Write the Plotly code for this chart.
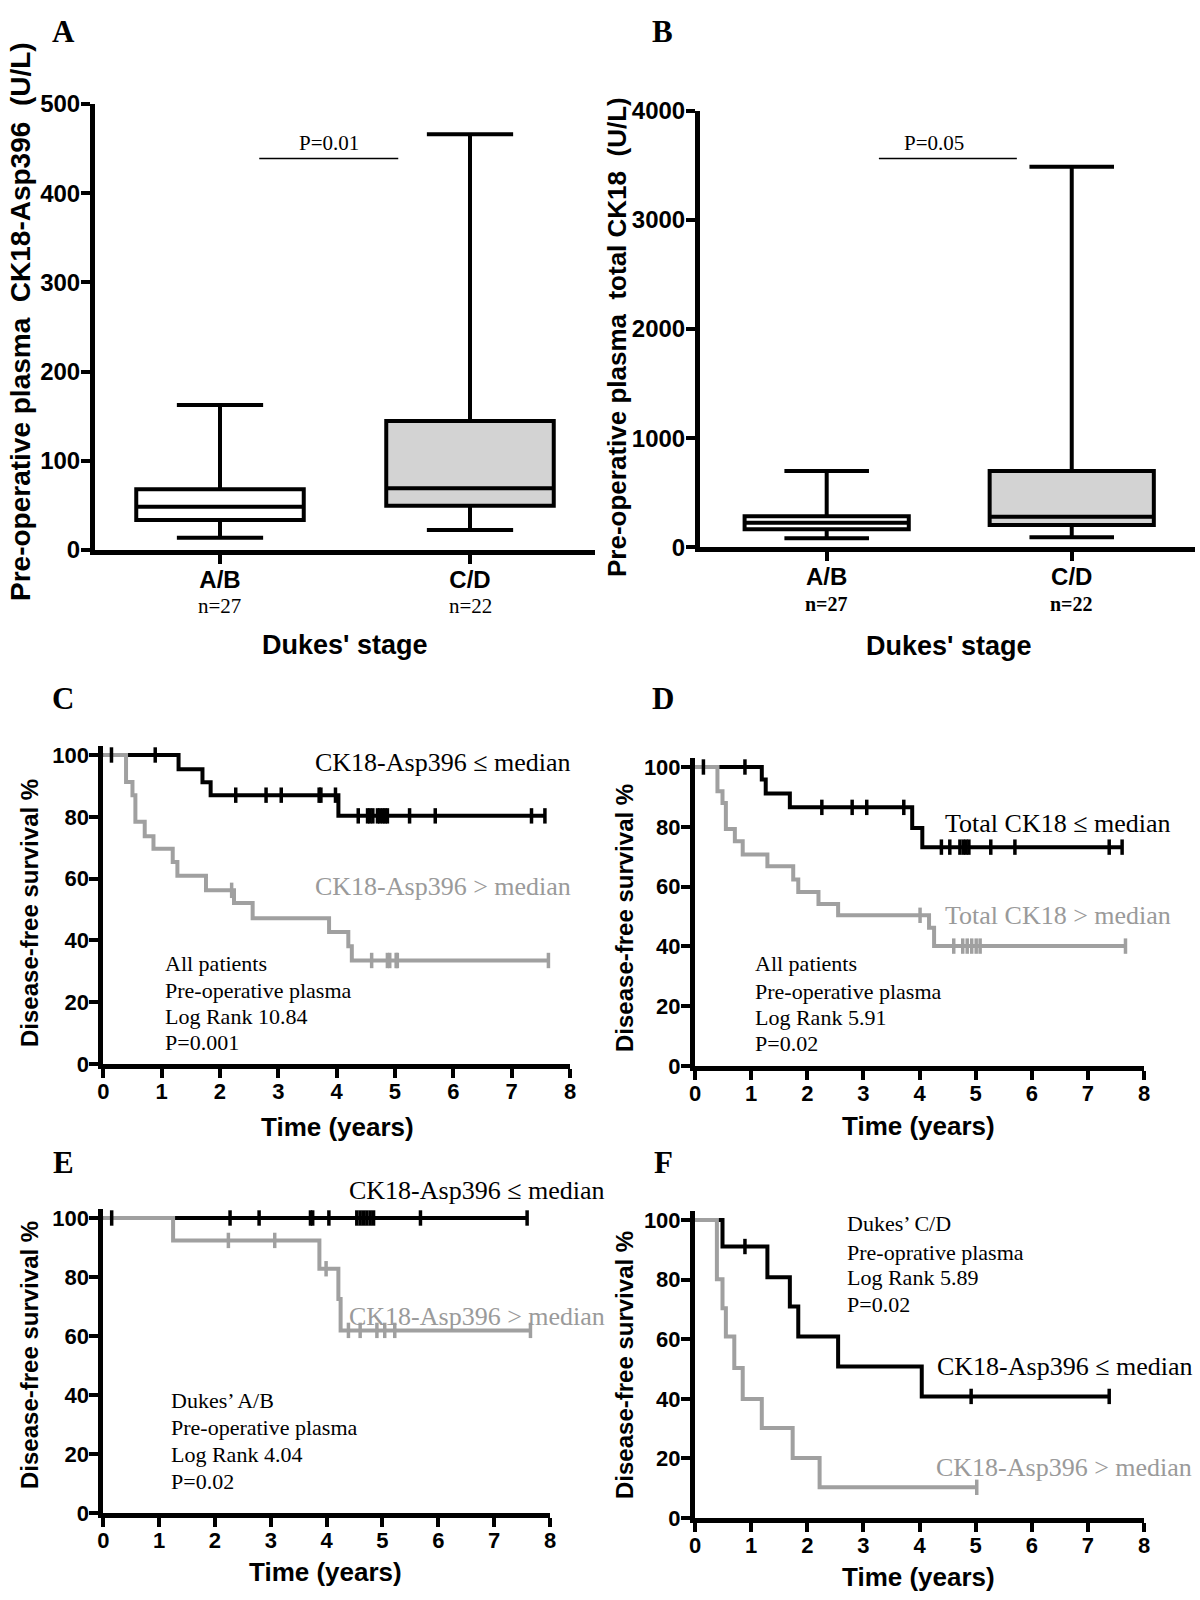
import plotly.graph_objects as go

W, H = 1200, 1600

# ------------------------------------------------------------------ data
groups = ["A/B", "C/D"]
group_pos = [1, 2]
group_n = ["n=27", "n=22"]

# Panel A : pre-operative plasma CK18-Asp396 (U/L)
a_lower = [13.8, 22.4]
a_q1 = [33.6, 49.7]
a_median = [48.5, 69.2]
a_q3 = [68.0, 144.6]
a_upper = [162.5, 466.0]
a_pvalue = "P=0.01"

# Panel B : pre-operative plasma total CK18 (U/L)
b_lower = [82, 92]
b_q1 = [165, 204]
b_median = [225, 280]
b_q3 = [285, 699]
b_upper = [699, 3487]
b_pvalue = "P=0.05"

# Panel C : all patients, CK18-Asp396
c_low_t = [1.29, 1.70, 1.84, 4.03]
c_low_s = [95.4, 91.2, 87.0, 80.3]
c_low_cens = [0.14, 0.89, 2.27, 2.79, 3.05, 3.70, 3.73, 3.98, 4.37, 4.53, 4.57, 4.62,
              4.70, 4.74, 4.79, 4.83, 4.87, 5.25, 5.69, 7.34, 7.57]
c_high_t = [0.39, 0.50, 0.55, 0.71, 0.86, 1.19, 1.27, 1.76, 2.24, 2.56, 3.87, 4.20, 4.26]
c_high_s = [91.3, 87.0, 78.4, 73.7, 69.7, 65.4, 60.9, 56.2, 52.1, 47.2, 42.7, 38.1, 33.5]
c_high_cens = [2.20, 4.60, 4.87, 4.91, 5.02, 5.04, 7.63]

# Panel D : all patients, total CK18
d_low_t = [1.19, 1.26, 1.69, 3.87, 4.05]
d_low_s = [95.8, 91.1, 86.5, 79.6, 73.2]
d_low_cens = [0.15, 0.89, 2.26, 2.80, 3.06, 3.72, 4.39, 4.54, 4.72, 4.78, 4.83, 4.88,
              5.27, 5.70, 7.38, 7.61]
d_high_t = [0.40, 0.49, 0.55, 0.71, 0.85, 1.29, 1.75, 1.84, 2.20, 2.55, 4.17, 4.26]
d_high_s = [91.9, 88.0, 79.3, 75.2, 70.7, 66.8, 62.4, 58.2, 54.2, 50.4, 46.2, 40.1]
d_high_cens = [4.01, 4.61, 4.77, 4.85, 4.93, 5.01, 5.08, 7.67]

# Panel E : Dukes' A/B, CK18-Asp396
e_low_t = []
e_low_s = []
e_low_cens = [0.15, 2.27, 2.79, 3.71, 3.75, 4.04, 4.54, 4.60, 4.66, 4.72, 4.78, 4.84,
              5.68, 7.59]
e_high_t = [1.25, 3.87, 4.21, 4.25]
e_high_s = [92.4, 82.8, 72.5, 61.9]
e_high_cens = [2.24, 3.07, 3.99, 4.39, 4.60, 4.90, 5.04, 5.22, 7.65]

# Panel F : Dukes' C/D, CK18-Asp396
f_low_t = [0.49, 1.29, 1.69, 1.84, 2.55, 4.04]
f_low_s = [91.1, 80.8, 71.0, 60.9, 50.8, 40.8]
f_low_cens = [0.89, 4.92, 7.38]
f_high_t = [0.39, 0.49, 0.55, 0.70, 0.85, 1.19, 1.74, 2.22]
f_high_s = [80.1, 70.4, 60.9, 50.3, 39.9, 30.2, 20.1, 10.3]
f_high_cens = [5.02]

km_ticks = [0, 1, 2, 3, 4, 5, 6, 7, 8]
surv_ticks = [0, 20, 40, 60, 80, 100]

# ------------------------------------------------------------------ styling
BLACK = "black"
GREY = "#a0a0a0"
GREY_TXT = "#9a9a9a"
SANS = "Liberation Sans, Arial"
SERIF = "Liberation Serif, Times New Roman"

fig = go.Figure()


def xdom(x0, x1):
    return [x0 / W, x1 / W]


def ydom(ytop, ybot):
    return [1 - ybot / H, 1 - ytop / H]


axis_common = dict(showline=True, linewidth=5, linecolor=BLACK, ticks="outside",
                   ticklen=9, tickwidth=4, tickcolor=BLACK, showgrid=False,
                   zeroline=False, mirror=False, fixedrange=True, automargin=False)

layout_axes = {}


def set_axes(idx, xpx, ypx, xrange, yrange, xtickvals, xticktext, ytickvals, ticksize):
    xa = "xaxis" if idx == 1 else f"xaxis{idx}"
    ya = "yaxis" if idx == 1 else f"yaxis{idx}"
    anchor_x = "x" if idx == 1 else f"x{idx}"
    anchor_y = "y" if idx == 1 else f"y{idx}"
    tf = dict(family=SANS, size=ticksize, color=BLACK, weight="bold")
    layout_axes[xa] = dict(axis_common, tickfont=tf, domain=xdom(*xpx), range=xrange,
                           anchor=anchor_y, tickmode="array", tickvals=xtickvals,
                           ticktext=xticktext, ticklabelstandoff=-5)
    layout_axes[ya] = dict(axis_common, tickfont=tf, domain=ydom(*ypx), range=yrange,
                           anchor=anchor_x, tickmode="array", tickvals=ytickvals,
                           ticktext=[str(v) for v in ytickvals], ticklabelstandoff=-4)


# ---- box panels
set_axes(1, (95, 595), (104, 550), [0.5, 2.5], [0, 500], group_pos, groups,
         [0, 100, 200, 300, 400, 500], 24)
set_axes(2, (700, 1195), (110.7, 547.3), [0.483, 2.503], [0, 4000], group_pos, groups,
         [0, 1000, 2000, 3000, 4000], 24)


# ---- KM panels: y range [0,103] with 100 placed at the measured pixel
def km_axes(idx, x0, x8, y100, y0):
    ppu = (y0 - y100) / 100.0
    ytop = y0 - 103 * ppu
    set_axes(idx, (x0, x8), (ytop, y0), [0, 8], [0, 103], km_ticks,
             [str(v) for v in km_ticks], surv_ticks, 22)


km_axes(3, 103.3, 570, 755, 1064)
km_axes(4, 695, 1144, 767, 1066)
km_axes(5, 103.3, 550, 1218, 1513)
km_axes(6, 695, 1144, 1220, 1518)


# ------------------------------------------------------------------ box traces
def add_boxes(xref, yref, lower, q1, med, q3, upper):
    fills = ["white", "#d3d3d3"]
    for i in range(len(groups)):
        fig.add_trace(go.Box(
            x=[group_pos[i]], q1=[q1[i]], median=[med[i]], q3=[q3[i]],
            lowerfence=[lower[i]], upperfence=[upper[i]],
            width=0.67, whiskerwidth=0.515, fillcolor=fills[i],
            line=dict(color=BLACK, width=4), boxpoints=False,
            xaxis=xref, yaxis=yref, showlegend=False, hoverinfo="skip"))


add_boxes("x", "y", a_lower, a_q1, a_median, a_q3, a_upper)
add_boxes("x2", "y2", b_lower, b_q1, b_median, b_q3, b_upper)

# significance bars
fig.add_trace(go.Scatter(x=[1.157, 1.713], y=[439, 439], mode="lines",
                         line=dict(color=BLACK, width=1.5), xaxis="x", yaxis="y",
                         showlegend=False, hoverinfo="skip"))
fig.add_trace(go.Scatter(x=[1.213, 1.776], y=[3563, 3563], mode="lines",
                         line=dict(color=BLACK, width=1.5), xaxis="x2", yaxis="y2",
                         showlegend=False, hoverinfo="skip"))


# ------------------------------------------------------------------ KM traces
def step_xy(t, s, cens):
    end = max([0] + list(t) + list(cens))
    xs = [0] + list(t) + [end]
    ys = [100] + list(s) + [s[-1] if s else 100]
    return xs, ys


def surv_at(t, s, tc):
    v = 100
    for ti, si in zip(t, s):
        if ti <= tc:
            v = si
    return v


def add_km(xref, yref, low, high):
    curves = [(low, BLACK), (high, GREY)]
    for (t, s, cens), col in curves:
        xs, ys = step_xy(t, s, cens)
        fig.add_trace(go.Scatter(x=xs, y=ys, mode="lines", line=dict(color=col, width=4, shape="hv"),
                                 xaxis=xref, yaxis=yref, showlegend=False, hoverinfo="skip"))
    for (t, s, cens), col in curves:
        fig.add_trace(go.Scatter(
            x=cens, y=[surv_at(t, s, c) for c in cens], mode="markers",
            marker=dict(symbol="line-ns", size=11, line=dict(color=col, width=3.5)),
            xaxis=xref, yaxis=yref, showlegend=False, hoverinfo="skip", cliponaxis=False))


add_km("x3", "y3", (c_low_t, c_low_s, c_low_cens), (c_high_t, c_high_s, c_high_cens))
add_km("x4", "y4", (d_low_t, d_low_s, d_low_cens), (d_high_t, d_high_s, d_high_cens))
add_km("x5", "y5", (e_low_t, e_low_s, e_low_cens), (e_high_t, e_high_s, e_high_cens))
add_km("x6", "y6", (f_low_t, f_low_s, f_low_cens), (f_high_t, f_high_s, f_high_cens))

# ------------------------------------------------------------------ text
annotations = []


def ann(text, xp, yp, size, family=SERIF, color=BLACK, bold=False, xanchor="center",
        angle=0):
    annotations.append(dict(
        text=text, x=xp / W, y=1 - yp / H, xref="paper", yref="paper",
        xanchor=xanchor, yanchor="middle", showarrow=False, textangle=angle,
        font=dict(family=family, size=size, color=color, weight="bold" if bold else "normal")))


# panel letters
for letter, (px, py) in zip("ABCDEF", [(63, 31), (662, 31), (63, 698), (663, 698),
                                        (63, 1162), (663, 1162)]):
    ann(letter, px, py, 31, SERIF, bold=True)

NB = "\u00a0"
# box panel titles
ann(f"Pre-operative plasma{NB} CK18-Asp396{NB} (U/L)", 20, 322, 28, SANS, bold=True, angle=-90)
ann(f"Pre-operative plasma{NB} total CK18{NB} (U/L)", 617, 337, 26, SANS, bold=True, angle=-90)
ann("Dukes' stage", 345, 645, 27, SANS, bold=True)
ann("Dukes' stage", 949, 646, 27, SANS, bold=True)
for i in range(2):
    ann(group_n[i], [220, 470][i], 606, 21, SERIF)
    ann(group_n[i], [826.7, 1071.7][i], 604, 20, SERIF, bold=True)
ann(a_pvalue, 329, 143, 21, SERIF)
ann(b_pvalue, 934, 143, 21, SERIF)

# KM titles
for (yx, yy, tx, ty) in [(29, 913, 337, 1127), (624, 918, 918, 1126),
                         (29, 1355, 325, 1572), (624, 1365, 918, 1577)]:
    ann("Disease-free survival %", yx, yy, 24, SANS, bold=True, angle=-90)
    ann("Time (years)", tx, ty, 26, SANS, bold=True)

# KM group labels
ann("CK18-Asp396 ≤ median", 313, 762, 26, SERIF, xanchor="left")
ann("CK18-Asp396 > median", 313, 887, 26, SERIF, GREY_TXT, xanchor="left")
ann("Total CK18 ≤ median", 943, 823, 26, SERIF, xanchor="left")
ann("Total CK18 > median", 943, 915, 26, SERIF, GREY_TXT, xanchor="left")
ann("CK18-Asp396 ≤ median", 347, 1190, 26, SERIF, xanchor="left")
ann("CK18-Asp396 > median", 347, 1316, 26, SERIF, GREY_TXT, xanchor="left")
ann("CK18-Asp396 ≤ median", 1194, 1366, 26, SERIF, xanchor="right")
ann("CK18-Asp396 > median", 1194, 1467, 26, SERIF, GREY_TXT, xanchor="right")

# KM statistics blocks
stats = [
    (163, [963, 990, 1016, 1042], ["All patients", "Pre-operative plasma", "Log Rank 10.84", "P=0.001"]),
    (753, [963, 991, 1017, 1043], ["All patients", "Pre-operative plasma", "Log Rank 5.91", "P=0.02"]),
    (169, [1400, 1427, 1454, 1481], ["Dukes’ A/B", "Pre-operative plasma", "Log Rank 4.04", "P=0.02"]),
    (845, [1223, 1252, 1277, 1304], ["Dukes’ C/D", "Pre-oprative plasma", "Log Rank 5.89", "P=0.02"]),
]
for xl, ys, lines in stats:
    for yv, line in zip(ys, lines):
        ann(line, xl, yv, 22, SERIF, xanchor="left")

fig.update_layout(
    width=W, height=H, margin=dict(l=0, r=0, t=0, b=0, autoexpand=False),
    paper_bgcolor="white", plot_bgcolor="white", showlegend=False,
    annotations=annotations, boxmode="overlay", **layout_axes)

fig.write_html(
    "out.html",
    config={"displayModeBar": False},
    post_script="document.body.style.margin='0px';"
                "document.documentElement.style.overflow='hidden';"
                "document.body.style.overflow='hidden';")
